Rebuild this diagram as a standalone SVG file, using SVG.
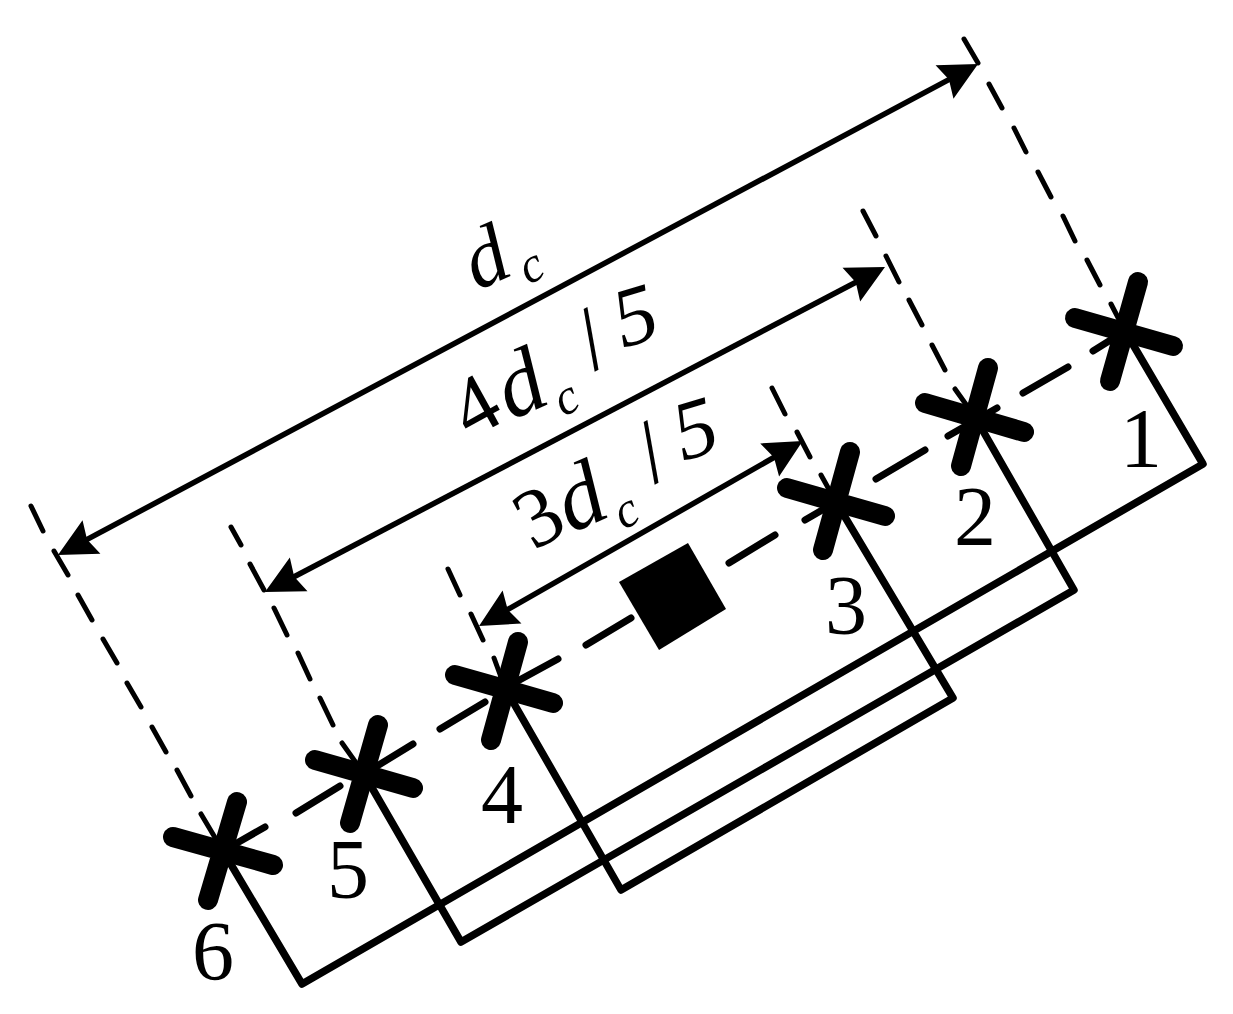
<svg xmlns="http://www.w3.org/2000/svg" width="1233" height="1014" viewBox="0 0 1233 1014">
<style>
.bg{fill:#fff}
.frame{fill:none;stroke:#000;stroke-width:7.5;stroke-linejoin:round}
.dash{fill:none;stroke:#000;stroke-width:5;stroke-linecap:round}
.mid{fill:none;stroke:#000;stroke-width:7;stroke-linecap:round}
.dim{fill:none;stroke:#000;stroke-width:5.5;marker-start:url(#ah);marker-end:url(#ah)}
.bar{fill:none;stroke:#000;stroke-width:20;stroke-linecap:round}
text{font-family:"Liberation Serif","Times New Roman",serif;font-size:84px;fill:#000}
.n{text-anchor:middle}
.i{font-style:italic}
.d{font-style:italic;font-size:92px}
.s{font-style:italic;font-size:50px}
.sl{font-size:90px}
</style>
<defs>
<marker id="ah" markerUnits="userSpaceOnUse" orient="auto-start-reverse" markerWidth="46" markerHeight="46" refX="29" refY="23" viewBox="0 0 46 46">
<path d="M43,23 L5,4 L10,23 L5,42 Z" fill="#000"/>
</marker>
</defs>
<rect class="bg" width="1233" height="1014"/>
<g id="connectors">
<path class="frame" d="M223,851 L302,984 L1203,464 L1125,331"/>
<path class="frame" d="M364,774 L461,942 L1074,590 L975,417"/>
<path class="frame" d="M505,688 L621,890 L953,698 L836,502"/>
<path class="mid" d="M223,851 L265,827 M296,813 L340,786 M364,774 L413,744 M440,729 L485,702 M505,688 L558,659 M586,645 L631,618 M655,604 L700,578 M729,563 L775,535 M805,520 L836,502 M876,479 L925,450 M948,436 L997,408 M1023,393 L1068,367 M1093,351 L1125,331"/>
<path class="dash" d="M31,506 L43,531 M54,551 L68,575 M78,595 L92,620 M103,639 L117,663 M127,683 L141,707 M152,727 L166,752 M177,770 L191,796 M201,814 L223,851"/>
<path class="dash" d="M231,527 L241,545 M250,564 L264,590 M274,608 L287,635 M298,653 L310,679 M320,698 L333,725 M342,743 L364,774"/>
<path class="dash" d="M448,569 L460,595 M471,614 L483,640 M494,658 L505,688"/>
<path class="dash" d="M772,388 L785,414 M797,432 L810,457 M821,475 L836,502"/>
<path class="dash" d="M863,211 L876,236 M886,256 L899,282 M909,300 L922,325 M932,345 L945,370 M955,389 L975,417"/>
<path class="dash" d="M964,39 L978,63 M989,84 L1002,108 M1014,128 L1026,152 M1038,172 L1051,197 M1063,216 L1075,241 M1087,260 L1100,285 M1111,304 L1125,331"/>
<path class="dim" d="M70.3,548.4 L965.7,70.6"/>
<path class="dim" d="M277.4,585.5 L872.6,273.5"/>
<path class="dim" d="M491.2,619 L790.5,448"/>
</g>
<g id="center"><polygon points="619,582 688,543 726,609 659,650" fill="#000"/></g>
<g id="n1"><path class="bar" d="M1138,282 L1110,381 M1075,318 L1173,346"/><text class="n" x="1141" y="467">1</text></g>
<g id="n2"><path class="bar" d="M988,368 L961,466 M925,403 L1024,432"/><text class="n" x="975" y="545">2</text></g>
<g id="n3"><path class="bar" d="M850,452 L823,550 M787,488 L885,516"/><text class="n" x="846" y="634">3</text></g>
<g id="n4"><path class="bar" d="M518,642 L491,740 M455,675 L553,703"/><text class="n" x="502" y="823">4</text></g>
<g id="n5"><path class="bar" d="M378,725 L350,823 M315,760 L413,788"/><text class="n" x="348" y="898">5</text></g>
<g id="n6"><path class="bar" d="M237,802 L208,900 M173,837 L273,865"/><text class="n" x="213" y="980">6</text></g>
<g id="labels">
<text transform="translate(477,291) rotate(-29)"><tspan class="i" rotate="5">d</tspan><tspan class="s" dx="6" dy="20">c</tspan></text>
<text transform="translate(470,440) rotate(-29)">4<tspan class="d" rotate="5" dx="3" dy="3">d</tspan><tspan class="s" dx="2" dy="22.5">c</tspan><tspan class="sl" dx="27" dy="-25.5">/</tspan><tspan class="i" rotate="12" dx="11" dy="-6">5</tspan></text>
<text transform="translate(530,553) rotate(-29)"><tspan dx="4">3</tspan><tspan class="d" rotate="5" dx="-1" dy="3">d</tspan><tspan class="s" dx="2" dy="22.5">c</tspan><tspan class="sl" dx="27" dy="-25.5">/</tspan><tspan class="i" rotate="12" dx="11" dy="-6">5</tspan></text>
</g>
</svg>
